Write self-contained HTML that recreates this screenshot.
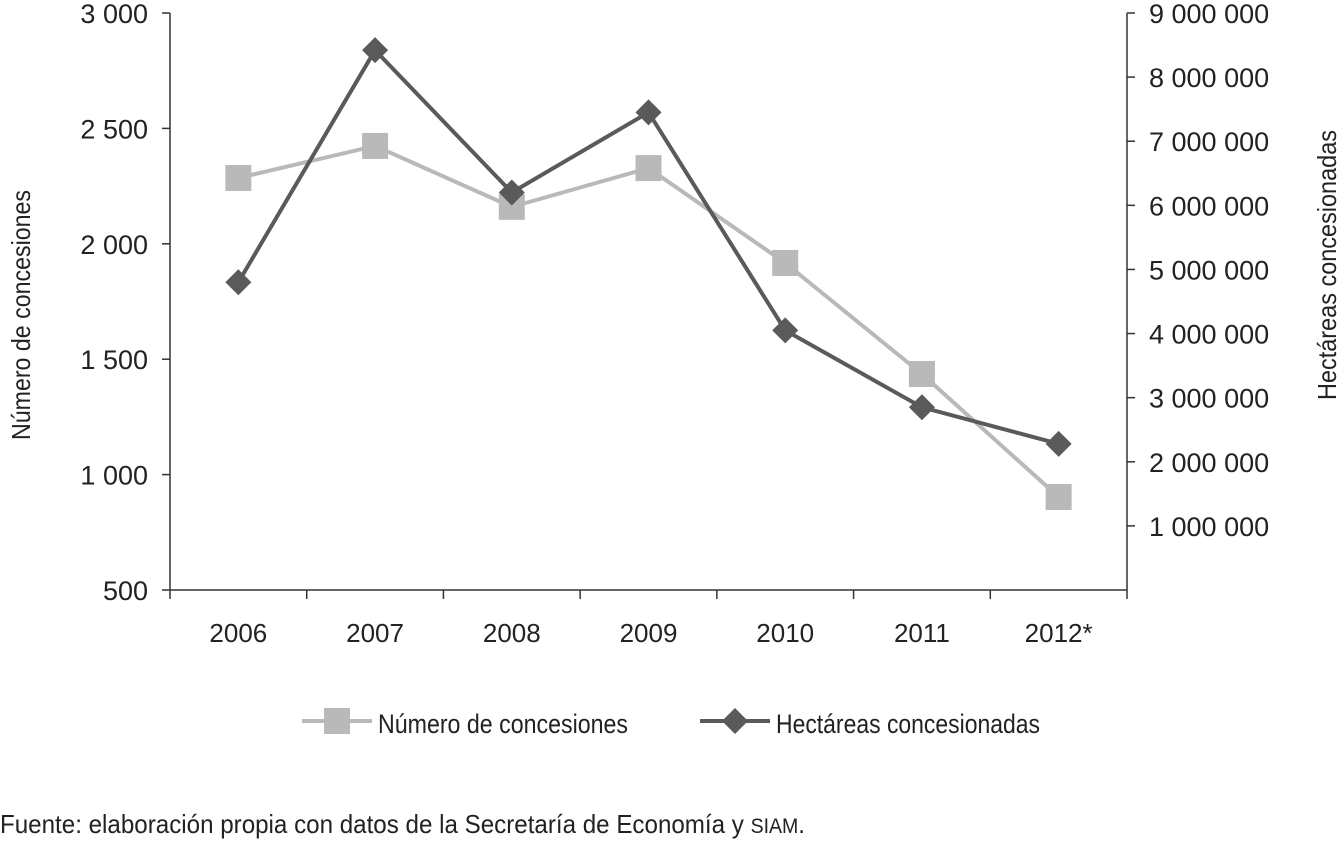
<!DOCTYPE html>
<html><head><meta charset="utf-8">
<style>
html,body{margin:0;padding:0;background:#fff;}
svg text{font-family:"Liberation Sans Narrow","Liberation Sans",sans-serif;fill:#222;}
</style></head>
<body>
<svg id="chart" width="1341" height="841" xmlns="http://www.w3.org/2000/svg">
<g id="axes"></g>
<g id="series"></g>
<text x="-315" y="30" transform="rotate(-90)" text-anchor="middle" font-size="26" textLength="250" lengthAdjust="spacingAndGlyphs">Número de concesiones</text>
<text x="-265" y="1336" transform="rotate(-90)" text-anchor="middle" font-size="26" textLength="270" lengthAdjust="spacingAndGlyphs">Hectáreas concesionadas</text>
<g>
<line x1="302" y1="721" x2="372" y2="721" stroke="#b9b9b9" stroke-width="4"/>
<rect x="324" y="708" width="26" height="26" fill="#b9b9b9"/>
<text x="378" y="733" font-size="27" textLength="250" lengthAdjust="spacingAndGlyphs">Número de concesiones</text>
<line x1="700" y1="721" x2="770" y2="721" stroke="#5a5a5a" stroke-width="4"/>
<polygon points="735,708 748,721 735,734 722,721" fill="#5a5a5a"/>
<text x="776" y="733" font-size="27" textLength="264" lengthAdjust="spacingAndGlyphs">Hectáreas concesionadas</text>
</g>
<text x="0" y="833" font-size="26" textLength="805" lengthAdjust="spacingAndGlyphs">Fuente: elaboración propia con datos de la Secretaría de Economía y <tspan font-size="21">SIAM</tspan>.</text>
</svg>
<script>
const categories=["2006","2007","2008","2009","2010","2011","2012*"];
const concesiones=[2285,2424,2160,2328,1917,1436,903];
const hectareas=[4800000,8420000,6200000,7450000,4050000,2850000,2280000];
const leftTicks=[500,1000,1500,2000,2500,3000];
const leftTickLabels=["500","1 000","1 500","2 000","2 500","3 000"];
const rightTicks=[1000000,2000000,3000000,4000000,5000000,6000000,7000000,8000000,9000000];
const rightTickLabels=["1 000 000","2 000 000","3 000 000","4 000 000","5 000 000","6 000 000","7 000 000","8 000 000","9 000 000"];

const NS="http://www.w3.org/2000/svg";
const X0=170,X1=1127,Y0=590,Y1=13;
const bw=(X1-X0)/categories.length;
const xs=i=>X0+bw*(i+0.5);
const yl=v=>Y0-(v-500)/(3000-500)*(Y0-Y1);
const yr=v=>Y0-v/9000000*(Y0-Y1);
function mk(tag,attrs,parent){const e=document.createElementNS(NS,tag);for(const k in attrs)e.setAttribute(k,attrs[k]);parent.appendChild(e);return e;}
const ax=document.getElementById('axes'),se=document.getElementById('series');
let l=mk('line',{x1:X0,y1:Y1,x2:X0,y2:Y0,stroke:'#333','stroke-width':1.5},ax);


l=mk('line',{x1:X1,y1:Y1,x2:X1,y2:Y0,stroke:'#333','stroke-width':1.5},ax);


l=mk('line',{x1:X0,y1:Y0,x2:X1,y2:Y0,stroke:'#333','stroke-width':1.5},ax);


leftTicks.forEach((v,i)=>{const y=yl(v);
 mk('line',{x1:X0-8,y1:y,x2:X0,y2:y,stroke:'#333','stroke-width':1.5},ax);
 const t=mk('text',{x:X0-22,y:y+10,'text-anchor':'end','font-size':27},ax);t.textContent=leftTickLabels[i];
 
 });
rightTicks.forEach((v,i)=>{const y=yr(v);
 mk('line',{x1:X1,y1:y,x2:X1+8,y2:y,stroke:'#333','stroke-width':1.5},ax);
 const t=mk('text',{x:X1+22,y:y+10,'text-anchor':'start','font-size':27},ax);t.textContent=rightTickLabels[i];
 
 });
for(let i=0;i<=categories.length;i++){const x=X0+bw*i;mk('line',{x1:x,y1:Y0,x2:x,y2:Y0+9,stroke:'#333','stroke-width':1.5},ax);}
categories.forEach((c,i)=>{const t=mk('text',{x:xs(i),y:Y0+52,'text-anchor':'middle','font-size':26},ax);t.textContent=c;
 
 });
let p=mk('polyline',{points:concesiones.map((v,i)=>xs(i)+','+yl(v)).join(' '),fill:'none',stroke:'#b9b9b9','stroke-width':4},se);


p=mk('polyline',{points:hectareas.map((v,i)=>xs(i)+','+yr(v)).join(' '),fill:'none',stroke:'#5a5a5a','stroke-width':4},se);


concesiones.forEach((v,i)=>{const r=mk('rect',{x:xs(i)-13,y:yl(v)-13,width:26,height:26,fill:'#b9b9b9'},se);
 
 });
hectareas.forEach((v,i)=>{const x=xs(i),y=yr(v);const d=mk('polygon',{points:`${x},${y-13} ${x+13},${y} ${x},${y+13} ${x-13},${y}`,fill:'#5a5a5a'},se);
 
 });
</script>
</body></html>
